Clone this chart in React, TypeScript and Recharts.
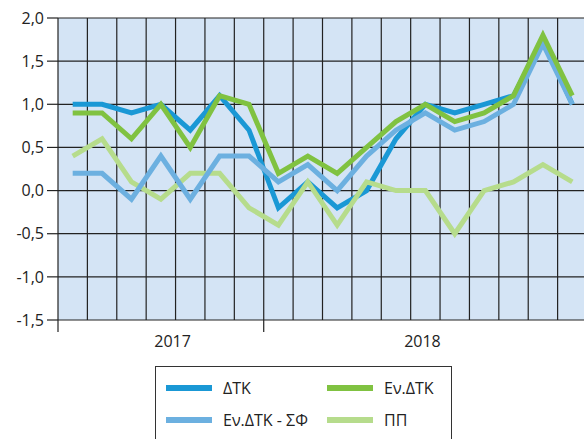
import { LineChart, Line, XAxis, YAxis, CartesianGrid, Legend } from "recharts";

const months = [
  "06/2017", "07/2017", "08/2017", "09/2017", "10/2017", "11/2017", "12/2017",
  "01/2018", "02/2018", "03/2018", "04/2018", "05/2018", "06/2018", "07/2018",
  "08/2018", "09/2018", "10/2018", "11/2018",
];
const dtk = [1.0, 1.0, 0.9, 1.0, 0.7, 1.1, 0.7, -0.2, 0.1, -0.2, 0.0, 0.6, 1.0, 0.9, 1.0, 1.1, 1.75, 1.0];
const evDtk = [0.9, 0.9, 0.6, 1.0, 0.5, 1.1, 1.0, 0.2, 0.4, 0.2, 0.5, 0.8, 1.0, 0.8, 0.9, 1.1, 1.8, 1.1];
const evDtkSf = [0.2, 0.2, -0.1, 0.4, -0.1, 0.4, 0.4, 0.1, 0.3, 0.0, 0.4, 0.7, 0.9, 0.7, 0.8, 1.0, 1.7, 1.0];
const pp = [0.4, 0.6, 0.1, -0.1, 0.2, 0.2, -0.2, -0.4, 0.1, -0.4, 0.1, 0.0, 0.0, -0.5, 0.0, 0.1, 0.3, 0.1];

const yTicks = [-1.5, -1, -0.5, 0, 0.5, 1, 1.5, 2];
const yearLabels = ["2017", "2018"];
const yearStarts = [0, 7]; // month index where each year begins
const yearLabelAt = [3.9, 12.4]; // where the year label sits, in month units

// legend order (two columns, row by row)
const legendOrder = ["dtk", "evDtk", "evDtkSf", "pp"];

const data = months.map((m, i) => ({
  month: m,
  x: i + 0.5,
  dtk: dtk[i],
  evDtk: evDtk[i],
  evDtkSf: evDtkSf[i],
  pp: pp[i],
}));

const gridTicks = [...months.map((_, i) => i), months.length];
const yearTicks = [...yearStarts, ...yearLabelAt];

const font = "'Open Sans', 'Noto Sans', sans-serif";

const YearTick = (props: any) => {
  const { x, y, payload } = props;
  const idx = yearLabelAt.indexOf(payload.value);
  if (idx >= 0) {
    return (
      <text x={x} y={y + 27} textAnchor="middle" fill="#222" fontSize={16} fontFamily={font}>
        {yearLabels[idx]}
      </text>
    );
  }
  return <line x1={x} y1={y} x2={x} y2={y + 12} stroke="#222" strokeWidth={1.2} />;
};

const renderLegend = (props: any) => {
  const payload = props.payload || [];
  const items = legendOrder
    .map((k) => payload.find((p: any) => p.dataKey === k))
    .filter(Boolean);
  return (
    <div
      style={{
        border: "1px solid #333",
        height: 90,
        boxSizing: "border-box",
        paddingTop: 5,
        display: "grid",
        gridTemplateColumns: "161px 1fr",
        gridAutoRows: "32px",
        fontFamily: font,
        fontSize: 16,
        color: "#222",
        background: "#fff",
      }}
    >
      {items.map((it: any) => (
        <div key={it.dataKey} style={{ display: "flex", alignItems: "center", paddingLeft: 10 }}>
          <span style={{ display: "inline-block", width: 46, height: 6, background: it.color, marginRight: 11 }} />
          <span>{it.value}</span>
        </div>
      ))}
    </div>
  );
};

export default function App() {
  return (
    <div style={{ position: "absolute", left: 0, top: 0, width: 584, height: 439, overflow: "hidden", background: "#fff" }}>
      <LineChart
        width={600}
        height={439}
        data={data}
        margin={{ top: 18, right: 13, left: 0, bottom: 79 }}
        style={{ fontFamily: font }}
      >
        <CartesianGrid stroke="#222" strokeWidth={1.2} fill="#d4e4f5" fillOpacity={1} />
        <XAxis
          dataKey="x"
          type="number"
          domain={[0, months.length]}
          ticks={gridTicks}
          tick={() => <g />}
          tickLine={false}
          axisLine={false}
          tickSize={0}
          tickMargin={0}
          height={0}
          interval={0}
        />
        <XAxis
          xAxisId="year"
          dataKey="x"
          type="number"
          domain={[0, months.length]}
          ticks={yearTicks}
          tick={<YearTick />}
          tickLine={false}
          tickSize={0}
          tickMargin={0}
          axisLine={false}
          height={40}
          interval={0}
        />
        <YAxis
          domain={[-1.5, 2]}
          ticks={yTicks}
          tickFormatter={(v: number) => v.toFixed(1).replace(".", ",")}
          tickSize={11}
          tickMargin={3}
          width={58}
          axisLine={false}
          tickLine={{ stroke: "#222", strokeWidth: 1.2 }}
          tick={{ fill: "#222", fontSize: 16, fontFamily: font }}
          interval={0}
        />
        <Legend
          layout="horizontal"
          verticalAlign="middle"
          content={renderLegend}
          wrapperStyle={{ position: "absolute", left: 155, top: 366, width: 297 }}
        />
        <Line dataKey="dtk" name="ΔΤΚ" stroke="#1a98d5" strokeWidth={5} dot={false} isAnimationActive={false} />
        <Line dataKey="pp" name="ΠΠ" stroke="#b6dc8c" strokeWidth={5} dot={false} isAnimationActive={false} />
        <Line dataKey="evDtkSf" name="Εν.ΔΤΚ - ΣΦ" stroke="#6cb0e0" strokeWidth={5} dot={false} isAnimationActive={false} />
        <Line dataKey="evDtk" name="Εν.ΔΤΚ" stroke="#80c241" strokeWidth={5} dot={false} isAnimationActive={false} />
      </LineChart>
    </div>
  );
}
